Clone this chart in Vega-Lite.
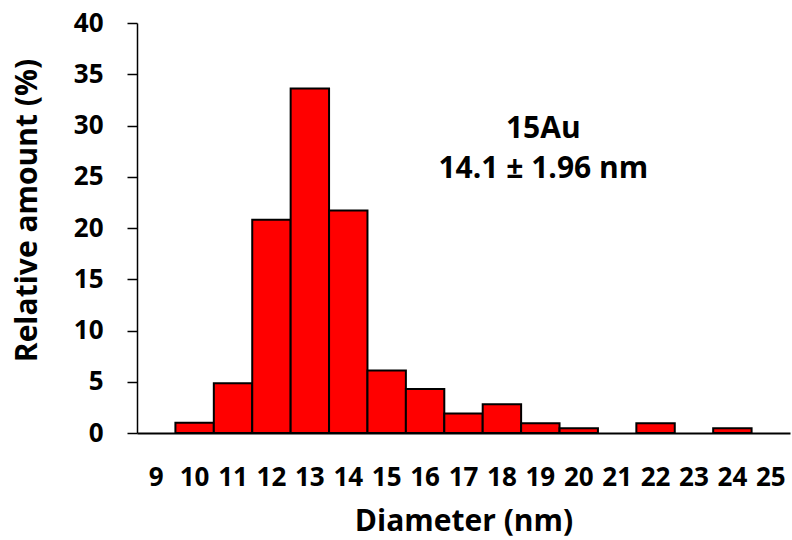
{
  "$schema": "https://vega.github.io/schema/vega-lite/v6.json",
  "width": 653,
  "height": 410,
  "autosize": {"type": "none"},
  "padding": {"left": 137, "top": 23, "right": 2, "bottom": 107},
  "background": "white",
  "config": {
    "view": {"stroke": null},
    "font": "Open Sans",
    "axis": {"grid": false, "domainColor": "black", "tickColor": "black", "labelColor": "black", "titleColor": "black", "labelFont": "Open Sans", "titleFont": "Open Sans", "labelFontWeight": "bold", "titleFontWeight": "bold"}
  },
  "layer": [
    {
      "data": {"values": [
        {"d": 10, "p": 1.0},
        {"d": 11, "p": 4.85},
        {"d": 12, "p": 20.8},
        {"d": 13, "p": 33.6},
        {"d": 14, "p": 21.7},
        {"d": 15, "p": 6.1},
        {"d": 16, "p": 4.3},
        {"d": 17, "p": 1.9},
        {"d": 18, "p": 2.8},
        {"d": 19, "p": 0.95},
        {"d": 20, "p": 0.46},
        {"d": 22, "p": 0.95},
        {"d": 24, "p": 0.46}
      ]},
      "mark": {"type": "bar", "color": "#ff0000", "stroke": "black", "strokeWidth": 2},
      "encoding": {
        "x": {
          "field": "d", "type": "ordinal",
          "scale": {"domain": [9,10,11,12,13,14,15,16,17,18,19,20,21,22,23,24,25], "paddingInner": 0, "paddingOuter": 0},
          "axis": {"title": "Diameter (nm)", "labelAngle": 0, "ticks": false, "labelFontSize": 26, "labelPadding": 31, "titleFontSize": 30, "titleY": 97, "titleBaseline": "alphabetic", "domainWidth": 2}
        },
        "y": {
          "field": "p", "type": "quantitative",
          "scale": {"domain": [0, 40]},
          "axis": {"title": "Relative amount (%)", "values": [0,5,10,15,20,25,30,35,40], "tickSize": 10, "tickWidth": 1.5, "domainWidth": 1.5, "labelFontSize": 26, "labelPadding": 24, "titleFontSize": 30, "titleX": -110, "titleY": 187, "titleAngle": -90, "titleAlign": "center", "titleBaseline": "middle"}
        }
      }
    },
    {
      "data": {"values": [
        {"d": 19, "p": 28.8, "t": "15Au"},
        {"d": 19, "p": 24.9, "t": "14.1 ± 1.96 nm"}
      ]},
      "mark": {"type": "text", "font": "Open Sans", "fontWeight": "bold", "fontSize": 30, "color": "black", "align": "center", "baseline": "alphabetic", "dx": 3},
      "encoding": {
        "x": {"field": "d", "type": "ordinal"},
        "y": {"field": "p", "type": "quantitative"},
        "text": {"field": "t"}
      }
    }
  ]
}
